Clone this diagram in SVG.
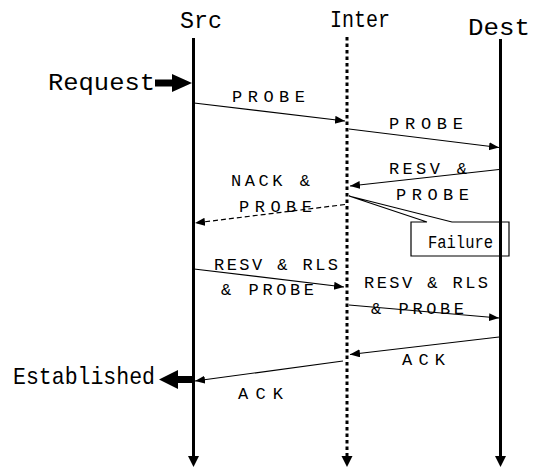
<svg xmlns="http://www.w3.org/2000/svg" width="540" height="468" viewBox="0 0 540 468">
<defs>
<style>
text{font-family:"Liberation Mono","Courier New",monospace;fill:#000}
.big{font-size:24px}
.lbl{font-size:17px}
.fl{font-size:19px}
.msg{stroke:#000;stroke-width:1.2;fill:none;marker-end:url(#ah)}
.life{stroke:#000;stroke-width:3;fill:none}
</style>
<marker id="ah" markerUnits="userSpaceOnUse" markerWidth="12" markerHeight="10" refX="10" refY="4" orient="auto">
<path d="M0,0 L10,4 L0,8 Z" fill="#000"/>
</marker>
</defs>
<rect width="540" height="468" fill="#fff"/>
<g id="src">
<text class="big" x="180" y="28" textLength="42" lengthAdjust="spacingAndGlyphs">Src</text>
<line class="life" x1="193.5" y1="38" x2="193.5" y2="458"/>
<path d="M188,456 L199,456 L193.5,467 Z" fill="#000"/>
</g>
<g id="inter">
<text class="big" x="330" y="27" textLength="60" lengthAdjust="spacingAndGlyphs">Inter</text>
<line class="life" x1="347" y1="37" x2="347" y2="458" stroke-dasharray="3.5 3"/>
<path d="M341.5,456 L352.5,456 L347,467 Z" fill="#000"/>
</g>
<g id="dest">
<text class="big" x="468" y="35" textLength="62" lengthAdjust="spacingAndGlyphs">Dest</text>
<line class="life" x1="500.5" y1="39" x2="500.5" y2="458"/>
<path d="M495,456 L506,456 L500.5,467 Z" fill="#000"/>
</g>
<g id="request">
<text class="big" x="48" y="90" textLength="107" lengthAdjust="spacingAndGlyphs">Request</text>
<path d="M155,79.5 L172,79.5 L172,74 L192,83 L172,92 L172,86.5 L155,86.5 Z" fill="#000"/>
</g>
<g id="established">
<text class="big" x="13" y="384" textLength="142" lengthAdjust="spacingAndGlyphs">Established</text>
<path d="M193,376 L178,376 L178,370 L159,379.5 L178,389 L178,383 L193,383 Z" fill="#000"/>
</g>
<g id="failure">
<path d="M427,222 L411,222 L411,256 L509,256 L509,222 L452,222 L349,196 L427,222" fill="none" stroke="#000" stroke-width="1.2"/>
<text class="fl" x="428" y="248" textLength="65" lengthAdjust="spacingAndGlyphs">Failure</text>
</g>
<g id="connectors">
<line class="msg" x1="194" y1="103" x2="345" y2="121"/>
<line class="msg" x1="349" y1="129" x2="499" y2="147.5"/>
<line class="msg" x1="499" y1="169.5" x2="350" y2="186"/>
<line class="msg" x1="345" y1="204.5" x2="195" y2="223" stroke-dasharray="5 3"/>
<line class="msg" x1="194" y1="269" x2="344" y2="287"/>
<line class="msg" x1="349" y1="305" x2="499" y2="318"/>
<line class="msg" x1="499" y1="337" x2="350" y2="354.5"/>
<line class="msg" x1="343" y1="361" x2="195" y2="381"/>
</g>
<g id="labels">
<text class="lbl" x="232" y="102" textLength="73" lengthAdjust="spacing">PROBE</text>
<text class="lbl" x="389" y="129" textLength="74" lengthAdjust="spacing">PROBE</text>
<text class="lbl" x="389" y="174" textLength="78" lengthAdjust="spacing">RESV &amp;</text>
<text class="lbl" x="396" y="200" textLength="73" lengthAdjust="spacing">PROBE</text>
<text class="lbl" x="231" y="186" textLength="79" lengthAdjust="spacing">NACK &amp;</text>
<text class="lbl" x="239" y="212" textLength="73" lengthAdjust="spacing">PROBE</text>
<text class="lbl" x="214" y="270" textLength="124" lengthAdjust="spacing">RESV &amp; RLS</text>
<text class="lbl" x="221" y="295" textLength="93" lengthAdjust="spacing">&amp; PROBE</text>
<text class="lbl" x="364" y="288" textLength="124" lengthAdjust="spacing">RESV &amp; RLS</text>
<text class="lbl" x="371" y="314" textLength="93" lengthAdjust="spacing">&amp; PROBE</text>
<text class="lbl" x="402" y="365" textLength="43" lengthAdjust="spacing">ACK</text>
<text class="lbl" x="238" y="399" textLength="45" lengthAdjust="spacing">ACK</text>
</g>
</svg>
